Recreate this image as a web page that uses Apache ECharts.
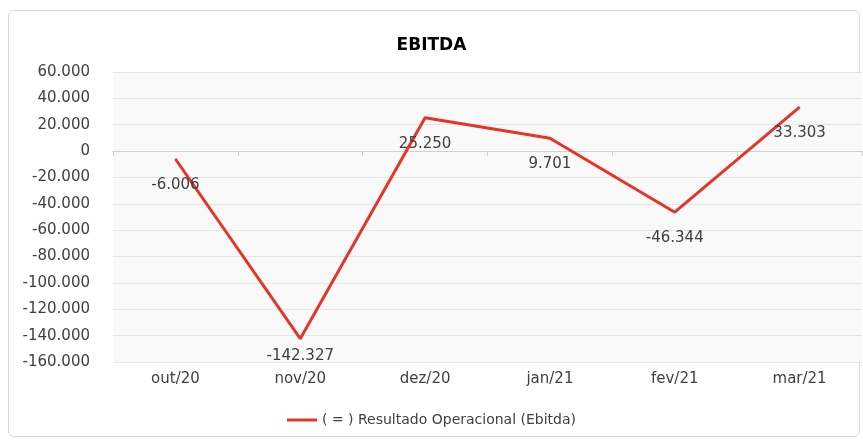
<!DOCTYPE html>
<html><head><meta charset="utf-8">
<script src="https://cdn.jsdelivr.net/npm/echarts@6/dist/echarts.min.js"></script>
<style>
html,body{margin:0;padding:0;background:#fff;}
#frame{position:absolute;left:8px;top:10px;width:852px;height:427px;border:1px solid #d9d9d9;border-radius:6px;box-sizing:border-box;}
#c{position:absolute;left:0;top:0;width:863px;height:440px;}
</style></head>
<body>
<div id="frame"></div>
<div id="c"></div>
<script>
const categories = ['out/20','nov/20','dez/20','jan/21','fev/21','mar/21'];
const ebitda = [-6006, -142327, 25250, 9701, -46344, 33303];
const seriesName = '( = ) Resultado Operacional (Ebitda)';
const titleText = 'EBITDA';
const yMin = -160000, yMax = 60000, yStep = 20000;

function fmt(v){
  const s = Math.abs(v).toString().replace(/\B(?=(\d{3})+(?!\d))/g,'.');
  return (v<0?'-':'') + s;
}
const font = '"DejaVu Sans", sans-serif';
const txt = '#404040';
const red = '#e5352b';
// labels that would fall below the plot area are kept inside it (like the original)
const seriesData = ebitda.map(v => (v - yMin) < 20000 ? {value:v,label:{distance:9}} : v);

const chart = echarts.init(document.getElementById('c'));
chart.setOption({
  animation:false,
  title:{text:titleText,left:'center',top:32,textStyle:{fontFamily:font,fontSize:17,fontWeight:'bold',color:'#000'}},
  legend:{bottom:8,left:'center',itemWidth:30,itemHeight:3,icon:'rect',itemGap:4,
    textStyle:{fontFamily:font,fontSize:14,color:txt},
    data:[{name:seriesName,itemStyle:{color:red,opacity:1}}]},
  grid:{left:113,right:1,top:72,bottom:78,show:true,backgroundColor:'#f9f9f9',borderWidth:0},
  xAxis:[{type:'category',data:categories,boundaryGap:true,
    axisLine:{show:false,onZero:false},axisTick:{show:false},
    axisLabel:{fontFamily:font,fontSize:15,color:txt,margin:10},position:'bottom'},
    {type:'category',data:categories,boundaryGap:true,position:'bottom',
    axisLine:{show:true,onZero:true,lineStyle:{color:'#d0d0d0',width:1}},
    axisTick:{show:true,length:5,lineStyle:{color:'#d0d0d0'}},axisLabel:{show:false}}],
  yAxis:{type:'value',min:yMin,max:yMax,interval:yStep,
    axisLine:{show:false},axisTick:{show:false},
    axisLabel:{formatter:fmt,fontFamily:font,fontSize:15,color:txt,margin:23},
    splitLine:{lineStyle:{color:'#e6e6e6',width:1}}},
  series:[{name:seriesName,type:'line',data:seriesData,xAxisIndex:0,
    symbol:'circle',symbolSize:1,showSymbol:true,
    lineStyle:{color:red,width:3},itemStyle:{color:red},
    label:{show:true,position:'bottom',distance:18,formatter:p=>fmt(p.value),
      fontFamily:font,fontSize:15,color:txt}}]
});
</script>
</body></html>
